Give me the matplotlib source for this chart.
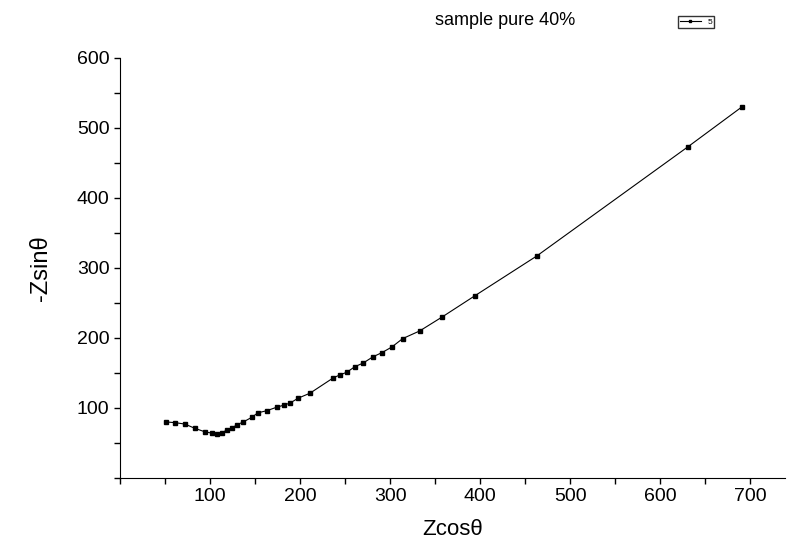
import matplotlib.pyplot as plt
from matplotlib.ticker import MultipleLocator, FixedLocator

# data
zcos = [51, 61, 72, 83, 94, 102, 108, 113, 119, 124, 130, 137, 147, 153, 163,
        174, 182, 189, 198, 211, 237, 244, 252, 261, 270, 281, 291, 302, 314,
        333, 358, 394, 463, 631, 691]
zsin = [80, 79, 77, 71, 66, 64, 63, 64, 69, 71, 76, 80, 87, 93, 96,
        101, 104, 107, 114, 121, 143, 147, 151, 159, 164, 173, 179, 187, 199,
        210, 230, 260, 317, 473, 530]
x_ticks = [100, 200, 300, 400, 500, 600, 700]
y_ticks = [100, 200, 300, 400, 500, 600]

plt.rcParams['font.family'] = ['Liberation Sans', 'DejaVu Sans']

fig = plt.figure(figsize=(7.92, 5.45), dpi=100)
ax = fig.add_axes([0.1515, 0.123, 0.84, 0.771])

ax.plot(zcos, zsin, color='black', lw=0.8, marker='s', ms=2.6,
        mec='black', mfc='black', label='5')

ax.set_xlim(0, 739)
ax.set_ylim(0, 600)
ax.xaxis.set_major_locator(FixedLocator(x_ticks))
ax.yaxis.set_major_locator(FixedLocator(y_ticks))
ax.xaxis.set_minor_locator(MultipleLocator(50))
ax.yaxis.set_minor_locator(MultipleLocator(50))
ax.tick_params(which='both', direction='out', length=4, width=1, labelsize=14)

for s in ['top', 'right']:
    ax.spines[s].set_visible(False)

ax.set_xlabel('Zcosθ', fontsize=16, labelpad=10)
ax.set_ylabel('-Zsinθ', fontsize=17, labelpad=18)

fig.text(0.638, 0.963, 'sample pure 40%', fontsize=13, ha='center', va='center')
ax.legend(loc='center', bbox_to_anchor=(0.866, 1.085), fontsize=6,
          frameon=True, fancybox=False, edgecolor='black', handlelength=2.5,
          borderpad=0.2, markerscale=0.8)

fig.savefig('out.png', dpi=100)
